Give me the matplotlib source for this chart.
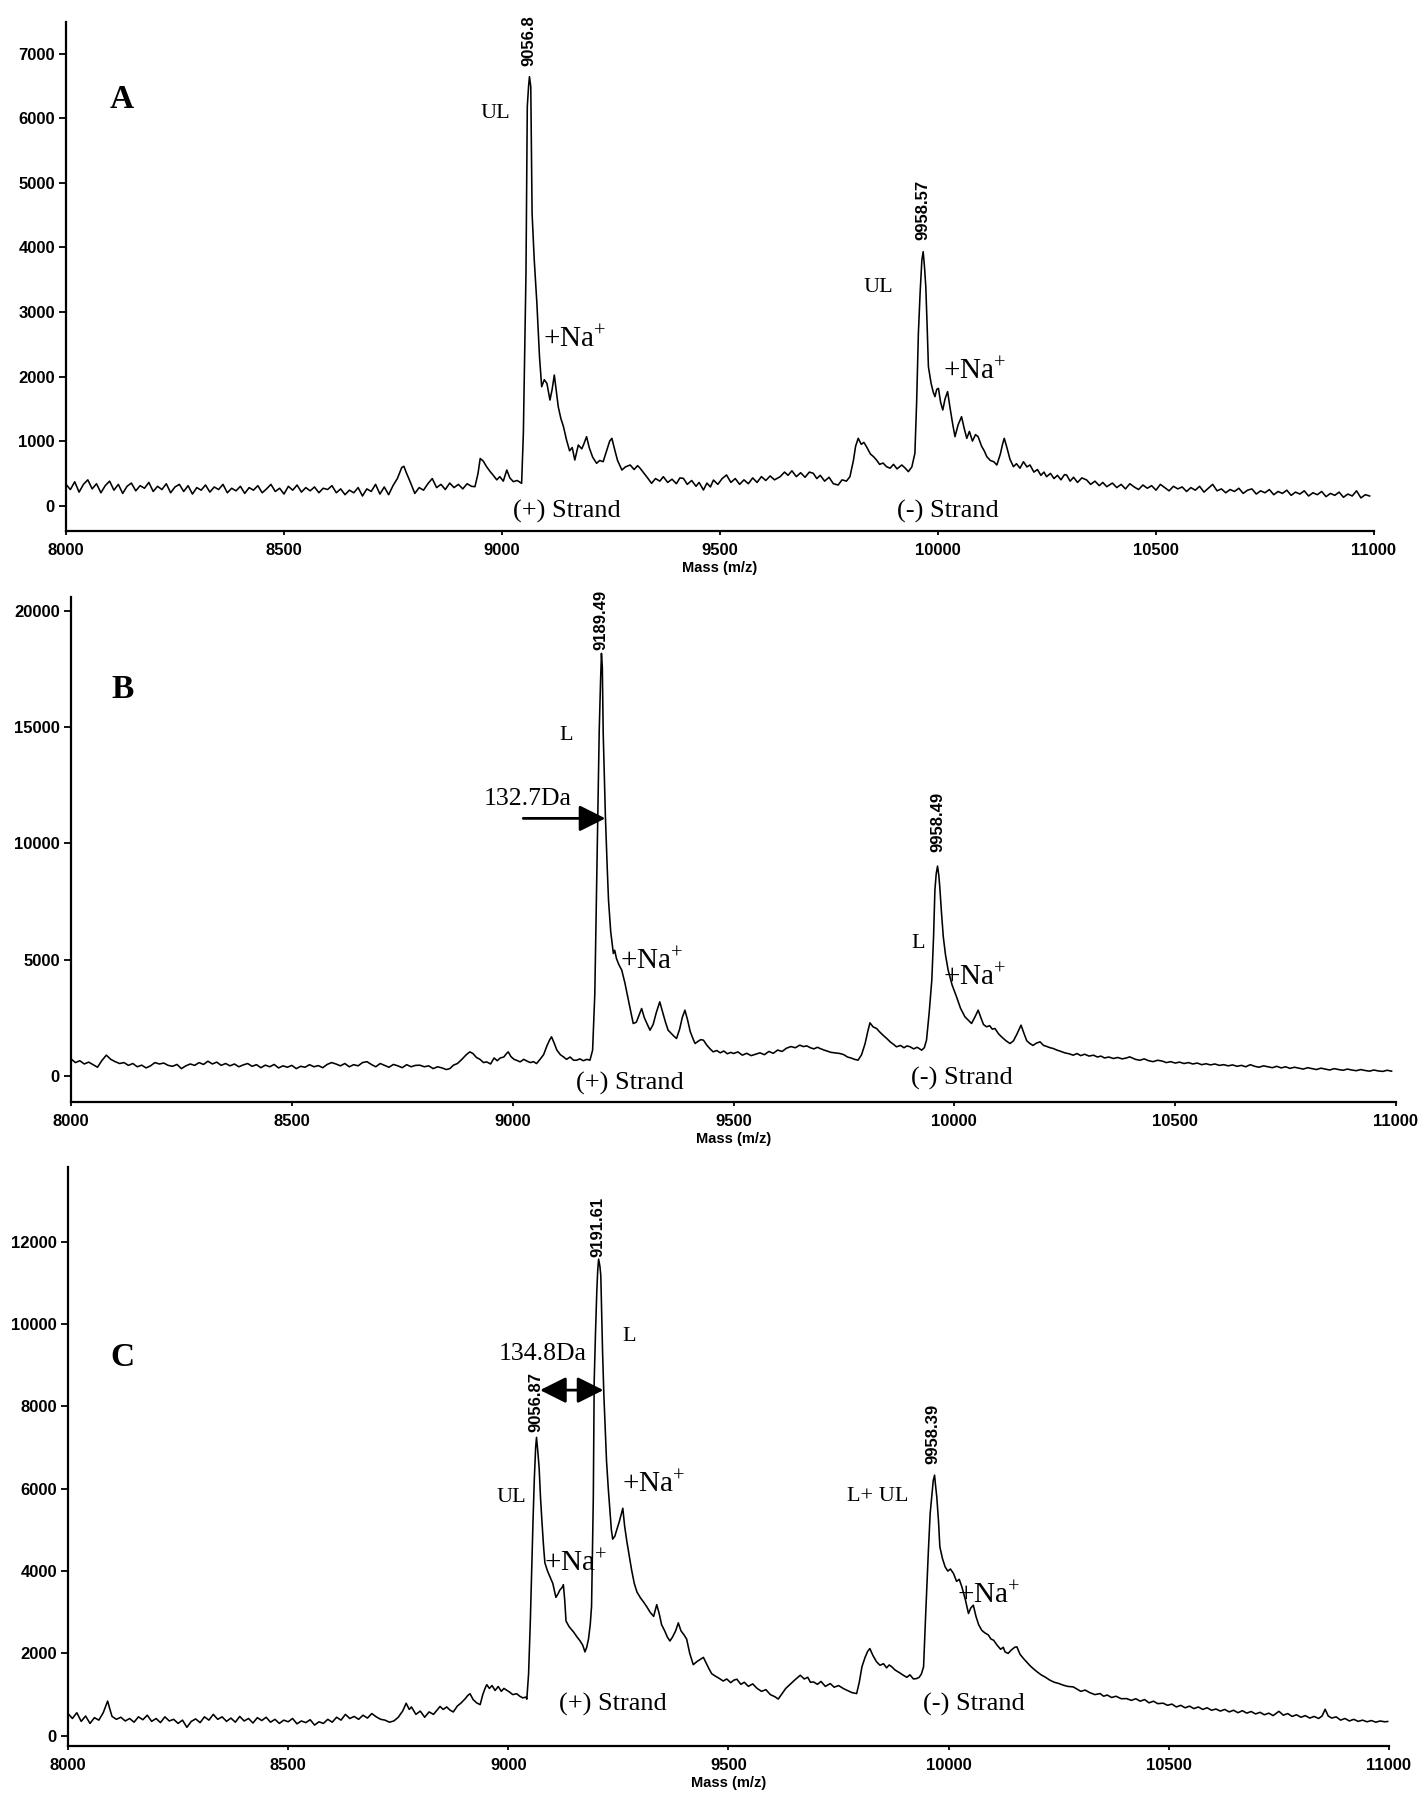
import matplotlib
matplotlib.use("Agg")
import matplotlib.pyplot as plt

plt.rcParams['mathtext.fontset'] = 'custom'
plt.rcParams['mathtext.rm'] = 'Liberation Serif'
plt.rcParams['mathtext.it'] = 'Liberation Serif:italic'
plt.rcParams['mathtext.bf'] = 'Liberation Serif:bold'

# ---------------- data (mass m/z, intensity) ----------------
spec_A = [
    (8000, 330), (8010, 250), (8020, 370), (8030, 210), (8040, 330), (8050, 400), (8060, 260), (8070, 340),
    (8080, 200), (8090, 310), (8100, 380), (8110, 240), (8120, 330), (8130, 190), (8140, 300), (8150, 350),
    (8160, 230), (8170, 310), (8180, 270), (8190, 360), (8200, 220), (8210, 300), (8220, 250), (8230, 340),
    (8240, 200), (8250, 290), (8260, 330), (8270, 220), (8280, 310), (8290, 180), (8300, 280), (8310, 240),
    (8320, 320), (8330, 210), (8340, 290), (8350, 250), (8360, 330), (8370, 200), (8380, 270), (8390, 230),
    (8400, 300), (8410, 190), (8420, 280), (8430, 240), (8440, 310), (8450, 200), (8460, 260), (8470, 330),
    (8480, 220), (8490, 270), (8500, 180), (8510, 300), (8520, 240), (8530, 320), (8540, 210), (8550, 280),
    (8560, 230), (8570, 290), (8580, 200), (8590, 270), (8600, 250), (8610, 310), (8620, 200), (8630, 260),
    (8640, 170), (8650, 240), (8660, 200), (8670, 280), (8680, 150), (8690, 260), (8700, 220), (8710, 330),
    (8720, 180), (8730, 290), (8740, 170), (8750, 310), (8760, 420), (8770, 590), (8775, 610), (8780, 520),
    (8790, 360), (8800, 190), (8810, 280), (8820, 240), (8830, 340), (8840, 420), (8850, 280), (8860, 330),
    (8870, 250), (8880, 350), (8890, 280), (8900, 330), (8910, 260), (8920, 340), (8930, 300),
    (8938, 294), (8945, 500), (8950, 730), (8957, 690), (8965, 600), (8973, 527), (8980, 470), (8988, 400),
    (8995, 449), (9003, 380), (9011, 552), (9018, 430), (9026, 372), (9035, 390), (9045, 346), (9049, 1120),
    (9052, 2400), (9055, 3597), (9058, 6178), (9061, 6500), (9063, 6642), (9066, 6487), (9069, 4526),
    (9074, 3800), (9080, 3133), (9086, 2307), (9091, 1842), (9097, 1950), (9103, 1894), (9110, 1636),
    (9115, 1800), (9120, 2023), (9125, 1750), (9129, 1533), (9135, 1350), (9141, 1223), (9148, 1017),
    (9155, 850), (9161, 900), (9167, 707), (9175, 939), (9183, 880), (9188, 960), (9194, 1069), (9200, 900),
    (9208, 750), (9217, 656), (9224, 700), (9232, 681), (9240, 850), (9247, 1000), (9252, 1043), (9258, 880),
    (9265, 700), (9275, 552), (9283, 600), (9294, 630), (9303, 560), (9311, 620), (9317, 578), (9326, 500),
    (9335, 420), (9343, 346), (9352, 420), (9362, 380), (9370, 449), (9380, 360), (9390, 410), (9400, 340),
    (9408, 430), (9416, 423), (9425, 330), (9435, 390), (9445, 300), (9452, 360), (9462, 243), (9470, 350),
    (9478, 290), (9485, 397), (9495, 330), (9505, 420), (9515, 475), (9525, 360), (9535, 420), (9545, 330),
    (9555, 400), (9565, 340), (9575, 430), (9585, 360), (9595, 450), (9605, 390), (9615, 460), (9625, 400),
    (9638, 449), (9648, 520), (9656, 470), (9665, 540), (9675, 450), (9685, 510), (9695, 440), (9705, 520),
    (9714, 501), (9722, 420), (9730, 470), (9740, 380), (9750, 440), (9760, 340), (9771, 320), (9780, 400),
    (9790, 380), (9798, 449), (9806, 700), (9811, 920), (9817, 1043), (9824, 950), (9830, 980), (9836, 914),
    (9845, 800), (9852, 760), (9859, 707), (9866, 640), (9874, 660), (9882, 604), (9890, 580), (9898, 640),
    (9906, 570), (9917, 630), (9925, 580), (9932, 527), (9940, 600), (9947, 811), (9951, 1600), (9955, 2669),
    (9959, 3300), (9963, 3804), (9966, 3933), (9969, 3700), (9972, 3391), (9975, 2800), (9978, 2153),
    (9984, 1900), (9989, 1760), (9993, 1688), (9997, 1800), (10001, 1817), (10006, 1600), (10011, 1482),
    (10016, 1650), (10022, 1766), (10028, 1500), (10034, 1250), (10039, 1069), (10046, 1250), (10054, 1378),
    (10060, 1200), (10066, 1043), (10072, 1150), (10079, 1000), (10086, 1100), (10092, 1069), (10100, 920),
    (10106, 850), (10112, 759), (10120, 700), (10128, 680), (10135, 630), (10143, 800), (10148, 950),
    (10152, 1043), (10158, 900), (10165, 720), (10173, 604), (10180, 650), (10188, 580), (10196, 680),
    (10204, 600), (10211, 630), (10220, 520), (10228, 560), (10236, 470), (10243, 520), (10249, 449),
    (10258, 500), (10266, 420), (10274, 470), (10282, 400), (10290, 480), (10295, 475), (10303, 380),
    (10311, 440), (10320, 360), (10330, 430), (10341, 398), (10350, 330), (10360, 380), (10370, 310),
    (10378, 360), (10387, 294), (10400, 350), (10410, 280), (10420, 330), (10430, 260), (10440, 340),
    (10450, 290), (10460, 250), (10470, 320), (10480, 270), (10490, 310), (10500, 240), (10510, 330),
    (10520, 280), (10530, 230), (10540, 300), (10550, 260), (10560, 290), (10570, 220), (10580, 280),
    (10590, 240), (10600, 300), (10610, 210), (10620, 270), (10630, 330), (10640, 230), (10650, 260),
    (10660, 200), (10670, 250), (10680, 220), (10690, 270), (10700, 190), (10710, 240), (10720, 260),
    (10730, 180), (10740, 230), (10750, 200), (10760, 250), (10770, 170), (10780, 220), (10790, 190),
    (10800, 240), (10810, 160), (10820, 210), (10830, 180), (10840, 230), (10850, 150), (10860, 200),
    (10870, 170), (10880, 220), (10890, 140), (10900, 190), (10910, 160), (10920, 210), (10930, 130),
    (10940, 180), (10950, 150), (10960, 230), (10970, 120), (10980, 170), (10990, 150),
]

spec_B = [
    (8000, 720), (8010, 560), (8020, 640), (8030, 500), (8040, 580), (8050, 470), (8060, 360), (8070, 650),
    (8080, 880), (8090, 700), (8100, 600), (8110, 520), (8120, 560), (8130, 440), (8140, 520), (8150, 380),
    (8160, 450), (8170, 330), (8180, 420), (8190, 560), (8200, 500), (8210, 540), (8220, 440), (8230, 400),
    (8240, 480), (8250, 300), (8260, 420), (8270, 500), (8280, 440), (8290, 560), (8300, 480), (8310, 620),
    (8320, 500), (8330, 580), (8340, 440), (8350, 520), (8360, 420), (8370, 500), (8380, 380), (8390, 460),
    (8400, 520), (8410, 400), (8420, 470), (8430, 340), (8440, 450), (8450, 380), (8460, 480), (8470, 330),
    (8480, 420), (8490, 360), (8500, 440), (8510, 300), (8520, 400), (8530, 360), (8540, 470), (8550, 380),
    (8560, 430), (8570, 340), (8580, 480), (8590, 560), (8600, 500), (8610, 420), (8620, 520), (8630, 380),
    (8640, 470), (8650, 420), (8660, 560), (8670, 600), (8680, 480), (8690, 380), (8700, 520), (8710, 440),
    (8720, 360), (8730, 480), (8740, 420), (8750, 340), (8760, 470), (8770, 380), (8780, 440), (8790, 447),
    (8800, 380), (8810, 420), (8820, 300), (8830, 380), (8840, 330), (8850, 260), (8858, 304), (8866, 450),
    (8875, 520), (8885, 700), (8895, 900), (8903, 1022), (8910, 950), (8918, 780), (8926, 700), (8934, 560),
    (8941, 591), (8950, 500), (8958, 760), (8965, 640), (8972, 760), (8980, 800), (8986, 950), (8990, 1022),
    (8996, 820), (9003, 700), (9010, 650), (9017, 591), (9025, 700), (9033, 620), (9040, 560), (9047, 600),
    (9054, 519), (9062, 700), (9070, 900), (9078, 1300), (9084, 1550), (9088, 1669), (9094, 1400),
    (9100, 1100), (9108, 900), (9115, 807), (9122, 700), (9130, 800), (9138, 660), (9145, 663), (9152, 720),
    (9160, 640), (9168, 700), (9175, 663), (9181, 1094), (9186, 3536), (9189, 7000), (9192, 10433),
    (9196, 14887), (9199, 17000), (9201, 18192), (9203, 17600), (9205, 14744), (9210, 11152), (9214, 9000),
    (9217, 7560), (9222, 6200), (9228, 5261), (9231, 5400), (9235, 5045), (9240, 4800), (9247, 4542),
    (9254, 4000), (9262, 3249), (9268, 2700), (9273, 2244), (9280, 2300), (9286, 2600), (9292, 2890),
    (9298, 2500), (9305, 2200), (9311, 1956), (9318, 2200), (9325, 2700), (9333, 3177), (9340, 2700),
    (9346, 2300), (9352, 1956), (9360, 1800), (9365, 1700), (9371, 1597), (9378, 2000), (9384, 2500),
    (9390, 2819), (9396, 2400), (9402, 1900), (9408, 1600), (9413, 1382), (9420, 1480), (9426, 1550),
    (9432, 1525), (9440, 1300), (9447, 1150), (9454, 1022), (9462, 1080), (9470, 980), (9478, 1060),
    (9486, 940), (9494, 1000), (9500, 950), (9510, 1020), (9520, 880), (9530, 960), (9540, 860), (9550, 920),
    (9560, 980), (9570, 900), (9580, 1040), (9590, 960), (9600, 1100), (9610, 1040), (9620, 1180),
    (9630, 1250), (9640, 1200), (9650, 1311), (9658, 1250), (9666, 1280), (9674, 1200), (9682, 1150),
    (9690, 1220), (9696, 1167), (9705, 1100), (9713, 1050), (9721, 1000), (9730, 980), (9741, 951),
    (9750, 900), (9758, 800), (9766, 760), (9774, 700), (9782, 664), (9790, 900), (9798, 1382), (9804, 1900),
    (9809, 2273), (9816, 2100), (9824, 2029), (9830, 1900), (9838, 1750), (9847, 1598), (9855, 1450),
    (9862, 1350), (9869, 1239), (9878, 1300), (9886, 1200), (9893, 1280), (9900, 1239), (9908, 1150),
    (9916, 1220), (9926, 1095), (9932, 1200), (9937, 1526), (9943, 2700), (9949, 4112), (9953, 6000),
    (9956, 7991), (9959, 8700), (9962, 9026), (9965, 8600), (9967, 8135), (9971, 7000), (9975, 5980),
    (9980, 5200), (9986, 4543), (9995, 3900), (10005, 3394), (10014, 2900), (10024, 2532), (10031, 2400),
    (10039, 2245), (10046, 2500), (10054, 2819), (10060, 2500), (10066, 2200), (10073, 2101), (10080, 2150),
    (10086, 2000), (10092, 2029), (10100, 1800), (10108, 1650), (10117, 1500), (10126, 1382), (10134, 1500),
    (10142, 1800), (10151, 2173), (10158, 1800), (10164, 1500), (10171, 1382), (10178, 1300), (10186, 1400),
    (10194, 1454), (10202, 1300), (10210, 1250), (10217, 1200), (10224, 1167), (10232, 1100), (10240, 1050),
    (10250, 980), (10260, 940), (10269, 879), (10278, 950), (10286, 860), (10295, 920), (10305, 840),
    (10315, 879), (10324, 800), (10332, 840), (10340, 760), (10350, 800), (10360, 736), (10370, 780),
    (10380, 720), (10390, 760), (10397, 808), (10410, 700), (10420, 660), (10430, 720), (10440, 640),
    (10450, 600), (10460, 660), (10470, 630), (10480, 560), (10490, 600), (10500, 540), (10510, 580),
    (10520, 520), (10530, 560), (10540, 500), (10550, 540), (10560, 470), (10570, 510), (10580, 460),
    (10590, 500), (10600, 440), (10610, 470), (10620, 420), (10630, 460), (10640, 400), (10650, 440),
    (10660, 380), (10670, 470), (10680, 400), (10690, 360), (10700, 420), (10710, 380), (10720, 340),
    (10730, 400), (10740, 330), (10750, 380), (10760, 310), (10770, 360), (10780, 320), (10790, 280),
    (10800, 340), (10810, 300), (10820, 260), (10830, 320), (10840, 280), (10850, 240), (10860, 300),
    (10870, 260), (10880, 230), (10890, 280), (10900, 240), (10910, 210), (10920, 260), (10930, 220),
    (10940, 190), (10950, 240), (10960, 200), (10970, 180), (10980, 230), (10990, 190),
]

spec_C = [
    (8000, 540), (8010, 420), (8020, 560), (8030, 350), (8040, 480), (8050, 300), (8060, 440), (8070, 380),
    (8080, 560), (8090, 843), (8095, 650), (8100, 470), (8110, 400), (8120, 450), (8130, 360), (8140, 420),
    (8150, 330), (8160, 460), (8170, 390), (8180, 500), (8190, 350), (8200, 420), (8210, 320), (8220, 460),
    (8230, 360), (8240, 400), (8250, 300), (8260, 380), (8270, 206), (8280, 350), (8290, 410), (8300, 320),
    (8310, 460), (8320, 380), (8330, 520), (8340, 400), (8350, 460), (8360, 350), (8370, 430), (8380, 330),
    (8390, 470), (8400, 360), (8410, 420), (8420, 310), (8430, 440), (8440, 370), (8450, 450), (8460, 330),
    (8470, 400), (8480, 300), (8490, 380), (8500, 340), (8510, 420), (8520, 290), (8530, 360), (8540, 320),
    (8550, 390), (8560, 260), (8570, 340), (8580, 300), (8590, 400), (8600, 330), (8610, 450), (8620, 380),
    (8630, 520), (8640, 420), (8650, 470), (8660, 400), (8670, 500), (8680, 430), (8690, 540), (8700, 460),
    (8710, 400), (8720, 380), (8730, 330), (8740, 360), (8750, 450), (8760, 600), (8768, 790), (8775, 640),
    (8780, 700), (8790, 520), (8800, 600), (8810, 450), (8820, 580), (8830, 520), (8840, 650), (8845, 712),
    (8852, 640), (8860, 700), (8868, 620), (8875, 579), (8884, 720), (8893, 800), (8902, 900), (8908, 980),
    (8913, 1021), (8920, 880), (8928, 800), (8936, 756), (8942, 1000), (8947, 1150), (8951, 1241),
    (8957, 1150), (8963, 1220), (8970, 1100), (8977, 1197), (8984, 1080), (8990, 1150), (8996, 1109),
    (9003, 1060), (9010, 1000), (9019, 1021), (9026, 960), (9033, 920), (9040, 940), (9042, 889),
    (9046, 1506), (9050, 2800), (9053, 4024), (9056, 5200), (9059, 6231), (9062, 7000), (9064, 7247),
    (9067, 6900), (9070, 6497), (9073, 5800), (9076, 5260), (9080, 4600), (9083, 4200), (9089, 4000),
    (9095, 3847), (9101, 3700), (9108, 3361), (9113, 3450), (9117, 3538), (9122, 3600), (9125, 3670),
    (9128, 3300), (9131, 2787), (9138, 2650), (9148, 2522), (9156, 2400), (9163, 2302), (9169, 2200),
    (9174, 2037), (9178, 2150), (9182, 2346), (9186, 2700), (9189, 3141), (9191, 4500), (9193, 5790),
    (9195, 8616), (9198, 9800), (9201, 10824), (9203, 11300), (9205, 11575), (9208, 11400), (9210, 11178),
    (9212, 10200), (9214, 9323), (9217, 8263), (9220, 7500), (9223, 6674), (9227, 6000), (9231, 5437),
    (9234, 5000), (9237, 4775), (9242, 4850), (9246, 4995), (9252, 5200), (9257, 5400), (9260, 5525),
    (9264, 5100), (9269, 4730), (9275, 4350), (9280, 4024), (9286, 3700), (9292, 3494), (9300, 3350),
    (9307, 3250), (9314, 3141), (9322, 3000), (9330, 2900), (9337, 3185), (9343, 2950), (9348, 2699),
    (9355, 2550), (9361, 2400), (9367, 2302), (9373, 2400), (9380, 2550), (9386, 2743), (9392, 2550),
    (9399, 2450), (9405, 2346), (9412, 2000), (9420, 1727), (9428, 1800), (9435, 1850), (9443, 1904),
    (9450, 1750), (9456, 1620), (9462, 1506), (9470, 1450), (9478, 1400), (9488, 1330), (9496, 1380),
    (9505, 1290), (9512, 1350), (9519, 1374), (9528, 1250), (9536, 1300), (9545, 1200), (9555, 1260),
    (9565, 1150), (9575, 1080), (9585, 1120), (9595, 1000), (9605, 950), (9613, 892), (9620, 1000),
    (9630, 1150), (9640, 1250), (9650, 1350), (9663, 1470), (9672, 1380), (9680, 1420), (9686, 1300),
    (9693, 1308), (9702, 1250), (9710, 1320), (9720, 1200), (9731, 1268), (9740, 1180), (9750, 1220),
    (9761, 1146), (9770, 1100), (9780, 1050), (9791, 1025), (9797, 1300), (9803, 1673), (9810, 1900),
    (9816, 2050), (9821, 2118), (9828, 1950), (9836, 1800), (9844, 1713), (9852, 1750), (9859, 1650),
    (9865, 1720), (9871, 1673), (9878, 1600), (9884, 1560), (9890, 1520), (9897, 1470), (9905, 1420),
    (9912, 1480), (9920, 1380), (9927, 1389), (9933, 1420), (9938, 1500), (9943, 1673), (9948, 3000),
    (9954, 4507), (9958, 5400), (9963, 5965), (9965, 6200), (9968, 6329), (9970, 6100), (9973, 5803),
    (9977, 5200), (9980, 4588), (9986, 4300), (9992, 4102), (9998, 4000), (10004, 4050), (10011, 3940),
    (10018, 3750), (10024, 3800), (10030, 3616), (10038, 3300), (10045, 2969), (10050, 3100), (10056, 3171),
    (10062, 2900), (10068, 2700), (10075, 2564), (10082, 2500), (10090, 2450), (10096, 2350), (10102, 2321),
    (10110, 2200), (10118, 2100), (10124, 2150), (10128, 2037), (10135, 2000), (10142, 2080), (10150, 2150),
    (10155, 2159), (10162, 1980), (10170, 1875), (10178, 1780), (10185, 1700), (10192, 1632), (10200, 1560),
    (10210, 1480), (10220, 1420), (10230, 1349), (10240, 1300), (10250, 1270), (10260, 1230), (10270, 1200),
    (10283, 1187), (10292, 1130), (10300, 1080), (10310, 1110), (10320, 1050), (10332, 1000), (10344, 1025),
    (10352, 960), (10360, 990), (10370, 930), (10380, 960), (10392, 900), (10404, 903), (10415, 860),
    (10425, 900), (10435, 840), (10445, 880), (10455, 800), (10465, 840), (10475, 780), (10487, 792),
    (10497, 740), (10507, 770), (10517, 700), (10527, 740), (10537, 680), (10547, 720), (10557, 660),
    (10567, 700), (10577, 640), (10587, 680), (10597, 620), (10607, 650), (10617, 600), (10627, 640),
    (10637, 580), (10647, 620), (10657, 560), (10667, 610), (10677, 550), (10687, 590), (10697, 530),
    (10707, 570), (10717, 510), (10727, 550), (10737, 490), (10750, 595), (10760, 500), (10770, 540),
    (10780, 470), (10790, 510), (10800, 450), (10810, 490), (10820, 430), (10830, 470), (10840, 420),
    (10848, 480), (10855, 644), (10862, 480), (10870, 430), (10880, 460), (10890, 380), (10900, 420),
    (10910, 360), (10920, 400), (10930, 350), (10940, 380), (10950, 340), (10960, 370), (10970, 330),
    (10980, 360), (10990, 340), (10997, 347),
]

x_ticks = [8000, 8500, 9000, 9500, 10000, 10500, 11000]
y_ticks_A = [0, 1000, 2000, 3000, 4000, 5000, 6000, 7000]
y_ticks_B = [0, 5000, 10000, 15000, 20000]
y_ticks_C = [0, 2000, 4000, 6000, 8000, 10000, 12000]

# peak labels: (mass, height of label base, text)
peaks_A = [(9061, 6800, "9056.8"), (9965, 4110, "9958.57")]
peaks_B = [(9200, 18350, "9189.49"), (9962, 9640, "9958.49")]
peaks_C = [(9063, 7380, "9056.87"), (9204, 11620, "9191.61"), (9964, 6600, "9958.39")]

# ---------------- figure ----------------
W, H = 1426, 1800
fig = plt.figure(figsize=(W / 100, H / 100), dpi=100)
fig.patch.set_facecolor("white")

def make_ax(left, right, top, bottom):
    return fig.add_axes([left / W, 1 - bottom / H, (right - left) / W, (bottom - top) / H])

axA = make_ax(66, 1374, 22, 531)
axB = make_ax(71, 1396, 597, 1102)
axC = make_ax(68, 1389, 1167, 1746)

SANS = "Liberation Sans"
SERIF = "Liberation Serif"

def style(ax, ylim, yticks):
    ax.set_xlim(8000, 11000)
    ax.set_ylim(*ylim)
    ax.set_xticks(x_ticks)
    ax.set_yticks(yticks)
    ax.set_xticklabels([str(t) for t in x_ticks], fontfamily=SANS, fontweight="bold", fontsize=12)
    ax.set_yticklabels([str(t) for t in yticks], fontfamily=SANS, fontweight="bold", fontsize=12)
    for s in ("top", "right"):
        ax.spines[s].set_visible(False)
    for s in ("left", "bottom"):
        ax.spines[s].set_linewidth(1.6)
    ax.tick_params(axis="y", length=5, width=1.3, pad=3)
    ax.tick_params(axis="x", length=3, width=1.3, pad=6)
    ax.set_xlabel("Mass (m/z)", fontfamily=SANS, fontweight="bold", fontsize=10.5, labelpad=2)

def draw(ax, spec, peaks):
    m, v = zip(*spec)
    ax.plot(m, v, color="black", lw=1.15)
    for pm, pv, lab in peaks:
        ax.text(pm, pv, lab, rotation=90, ha="center", va="bottom",
                fontfamily=SANS, fontweight="bold", fontsize=12)

def t(ax, x, y, s, size=18, ha="center", va="center", bold=False):
    ax.text(x, y, s, fontfamily=SERIF, fontsize=size, ha=ha, va=va,
            fontweight="bold" if bold else "normal")

NA = r"+Na$^{+}$"
NA_SIZE = 21
STRAND_SIZE = 19
LAB_SIZE = 16

# Panel A
style(axA, (-392, 7489), y_ticks_A)
draw(axA, spec_A, peaks_A)
t(axA, 8127, 6290, "A", size=24, bold=True)
t(axA, 8984, 6080, "UL", size=LAB_SIZE)
t(axA, 9094, 2570, NA, size=NA_SIZE, ha="left")
t(axA, 9149, -93, "(+) Strand", size=STRAND_SIZE)
t(axA, 9862, 3378, "UL", size=LAB_SIZE)
t(axA, 10011, 2070, NA, size=NA_SIZE, ha="left")
t(axA, 10022, -93, "(-) Strand", size=STRAND_SIZE)

# Panel B
style(axB, (-1138, 20620), y_ticks_B)
draw(axB, spec_B, peaks_B)
t(axB, 8116, 16650, "B", size=24, bold=True)
t(axB, 9121, 14670, "L", size=LAB_SIZE)
t(axB, 9033, 11914, "132.7Da", size=18.5)
axB.annotate("", xy=(9210, 11082), xytext=(9024, 11082),
             arrowprops=dict(arrowstyle="-|>,head_length=0.8,head_width=0.4",
                             mutation_scale=20, lw=2, color="black",
                             shrinkA=0, shrinkB=0))
t(axB, 9243, 4900, NA, size=NA_SIZE, ha="left")
t(axB, 9266, -330, "(+) Strand", size=STRAND_SIZE)
t(axB, 9918, 5707, "L", size=LAB_SIZE)
t(axB, 9974, 4220, NA, size=NA_SIZE, ha="left")
t(axB, 10018, -112, "(-) Strand", size=STRAND_SIZE)

# Panel C
style(axC, (-248, 13812), y_ticks_C)
draw(axC, spec_C, peaks_C)
t(axC, 8124, 9196, "C", size=24, bold=True)
t(axC, 9078, 9278, "134.8Da", size=18.5)
axC.annotate("", xy=(9216, 8394), xytext=(9072, 8394),
             arrowprops=dict(arrowstyle="<|-|>,head_length=0.8,head_width=0.4",
                             mutation_scale=20, lw=2, color="black",
                             shrinkA=0, shrinkB=0))
t(axC, 9006, 5795, "UL", size=LAB_SIZE)
t(axC, 9274, 9696, "L", size=LAB_SIZE)
t(axC, 9080, 4167, NA, size=NA_SIZE, ha="left")
t(axC, 9258, 6086, NA, size=NA_SIZE, ha="left")
t(axC, 9237, 765, "(+) Strand", size=STRAND_SIZE)
t(axC, 9838, 5819, "L+ UL", size=LAB_SIZE)
t(axC, 10018, 3389, NA, size=NA_SIZE, ha="left")
t(axC, 10058, 765, "(-) Strand", size=STRAND_SIZE)

fig.savefig("out.png", dpi=100, facecolor="white")
